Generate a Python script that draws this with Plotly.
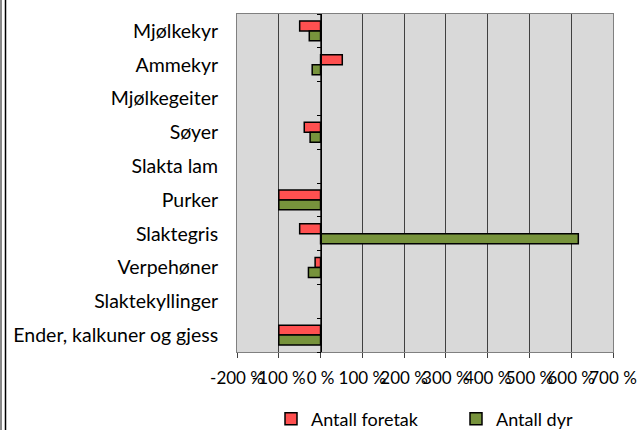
import plotly.graph_objects as go

categories = ["Mjølkekyr", "Ammekyr", "Mjølkegeiter", "Søyer", "Slakta lam",
              "Purker", "Slaktegris", "Verpehøner", "Slaktekyllinger",
              "Ender, kalkuner og gjess"]
foretak = [-50, 52, None, -39, None, -100, -50, -13, None, -100]
dyr = [-27, -20, None, -25, None, -100, 617, -29, None, -100]
series_names = ["Antall foretak", "Antall dyr"]
x_tick_vals = [-200, -100, 0, 100, 200, 300, 400, 500, 600, 700]
x_tick_text = ["-200 %", "-100 %", "0 %", "100 %", "200 %", "300 %",
               "400 %", "500 %", "600 %", "700 %"]

W, H = 638, 430
L, R, T, B = 237, 25, 14, 78
FONT = "Lato"

fig = go.Figure()
fig.add_trace(go.Bar(y=categories, x=foretak, orientation="h", name=series_names[0],
                     marker=dict(color="#FF5050", line=dict(color="black", width=1.5))))
fig.add_trace(go.Bar(y=categories, x=dyr, orientation="h", name=series_names[1],
                     marker=dict(color="#77933C", line=dict(color="black", width=1.5))))
# helper trace for the zero-crossing category axis with boundary ticks
fig.add_trace(go.Scatter(x=[None], y=[None], yaxis="y2", showlegend=False, hoverinfo="skip"))

xmin, xmax = -200, 700
zero_pos = (0 - xmin) / (xmax - xmin)
pw = W - L - R
ph = H - T - B

fig.update_layout(
    width=W, height=H,
    margin=dict(l=L, r=R, t=T, b=B, autoexpand=False),
    paper_bgcolor="white",
    plot_bgcolor="#D9D9D9",
    barmode="group", bargap=0.41, bargroupgap=0,
    font=dict(family=FONT, size=18, color="black"),
    xaxis=dict(range=[xmin, xmax], tickvals=x_tick_vals, ticktext=x_tick_text,
               tickangle=0, showgrid=True, gridcolor="#404040", gridwidth=1,
               zeroline=False, showline=True, linecolor="#808080", linewidth=1,
               mirror=True, ticks="outside", ticklen=5, tickcolor="#404040",
               tickfont=dict(family=FONT, size=17), fixedrange=True,
               automargin=False, ticklabeloverflow="allow", ticklabelstandoff=6),
    yaxis=dict(autorange="reversed", type="category", showgrid=False,
               showline=True, linecolor="#808080", mirror=True,
               ticks="outside", ticklen=14, tickcolor="rgba(0,0,0,0)",
               tickfont=dict(family=FONT, size=19.5), automargin=False),
    yaxis2=dict(overlaying="y", anchor="free", position=zero_pos, side="left",
                range=[len(categories) - 0.5, -0.5], tick0=0.5, dtick=1,
                ticks="outside", ticklen=4, tickcolor="black",
                showticklabels=False, showgrid=False, zeroline=False,
                showline=True, linecolor="black", linewidth=1, automargin=False),
    legend=dict(orientation="h", x=(271 - L) / pw, xanchor="left",
                y=-(419 - T - ph) / ph, yanchor="middle",
                font=dict(family=FONT, size=18), entrywidth=140, entrywidthmode="pixels",
                traceorder="normal", bgcolor="rgba(0,0,0,0)"),
    showlegend=True,
)

# outer frame lines on the left edge of the chart
for xpx, col in [(1, "#606060"), (5.5, "black")]:
    fig.add_shape(type="line", xref="paper", yref="paper",
                  x0=(xpx - L) / pw, x1=(xpx - L) / pw, y0=-B / ph, y1=1 + T / ph,
                  line=dict(color=col, width=1.5))

fig.write_html("out.html", config={"displayModeBar": False},
               post_script="document.body.style.margin='0';")
